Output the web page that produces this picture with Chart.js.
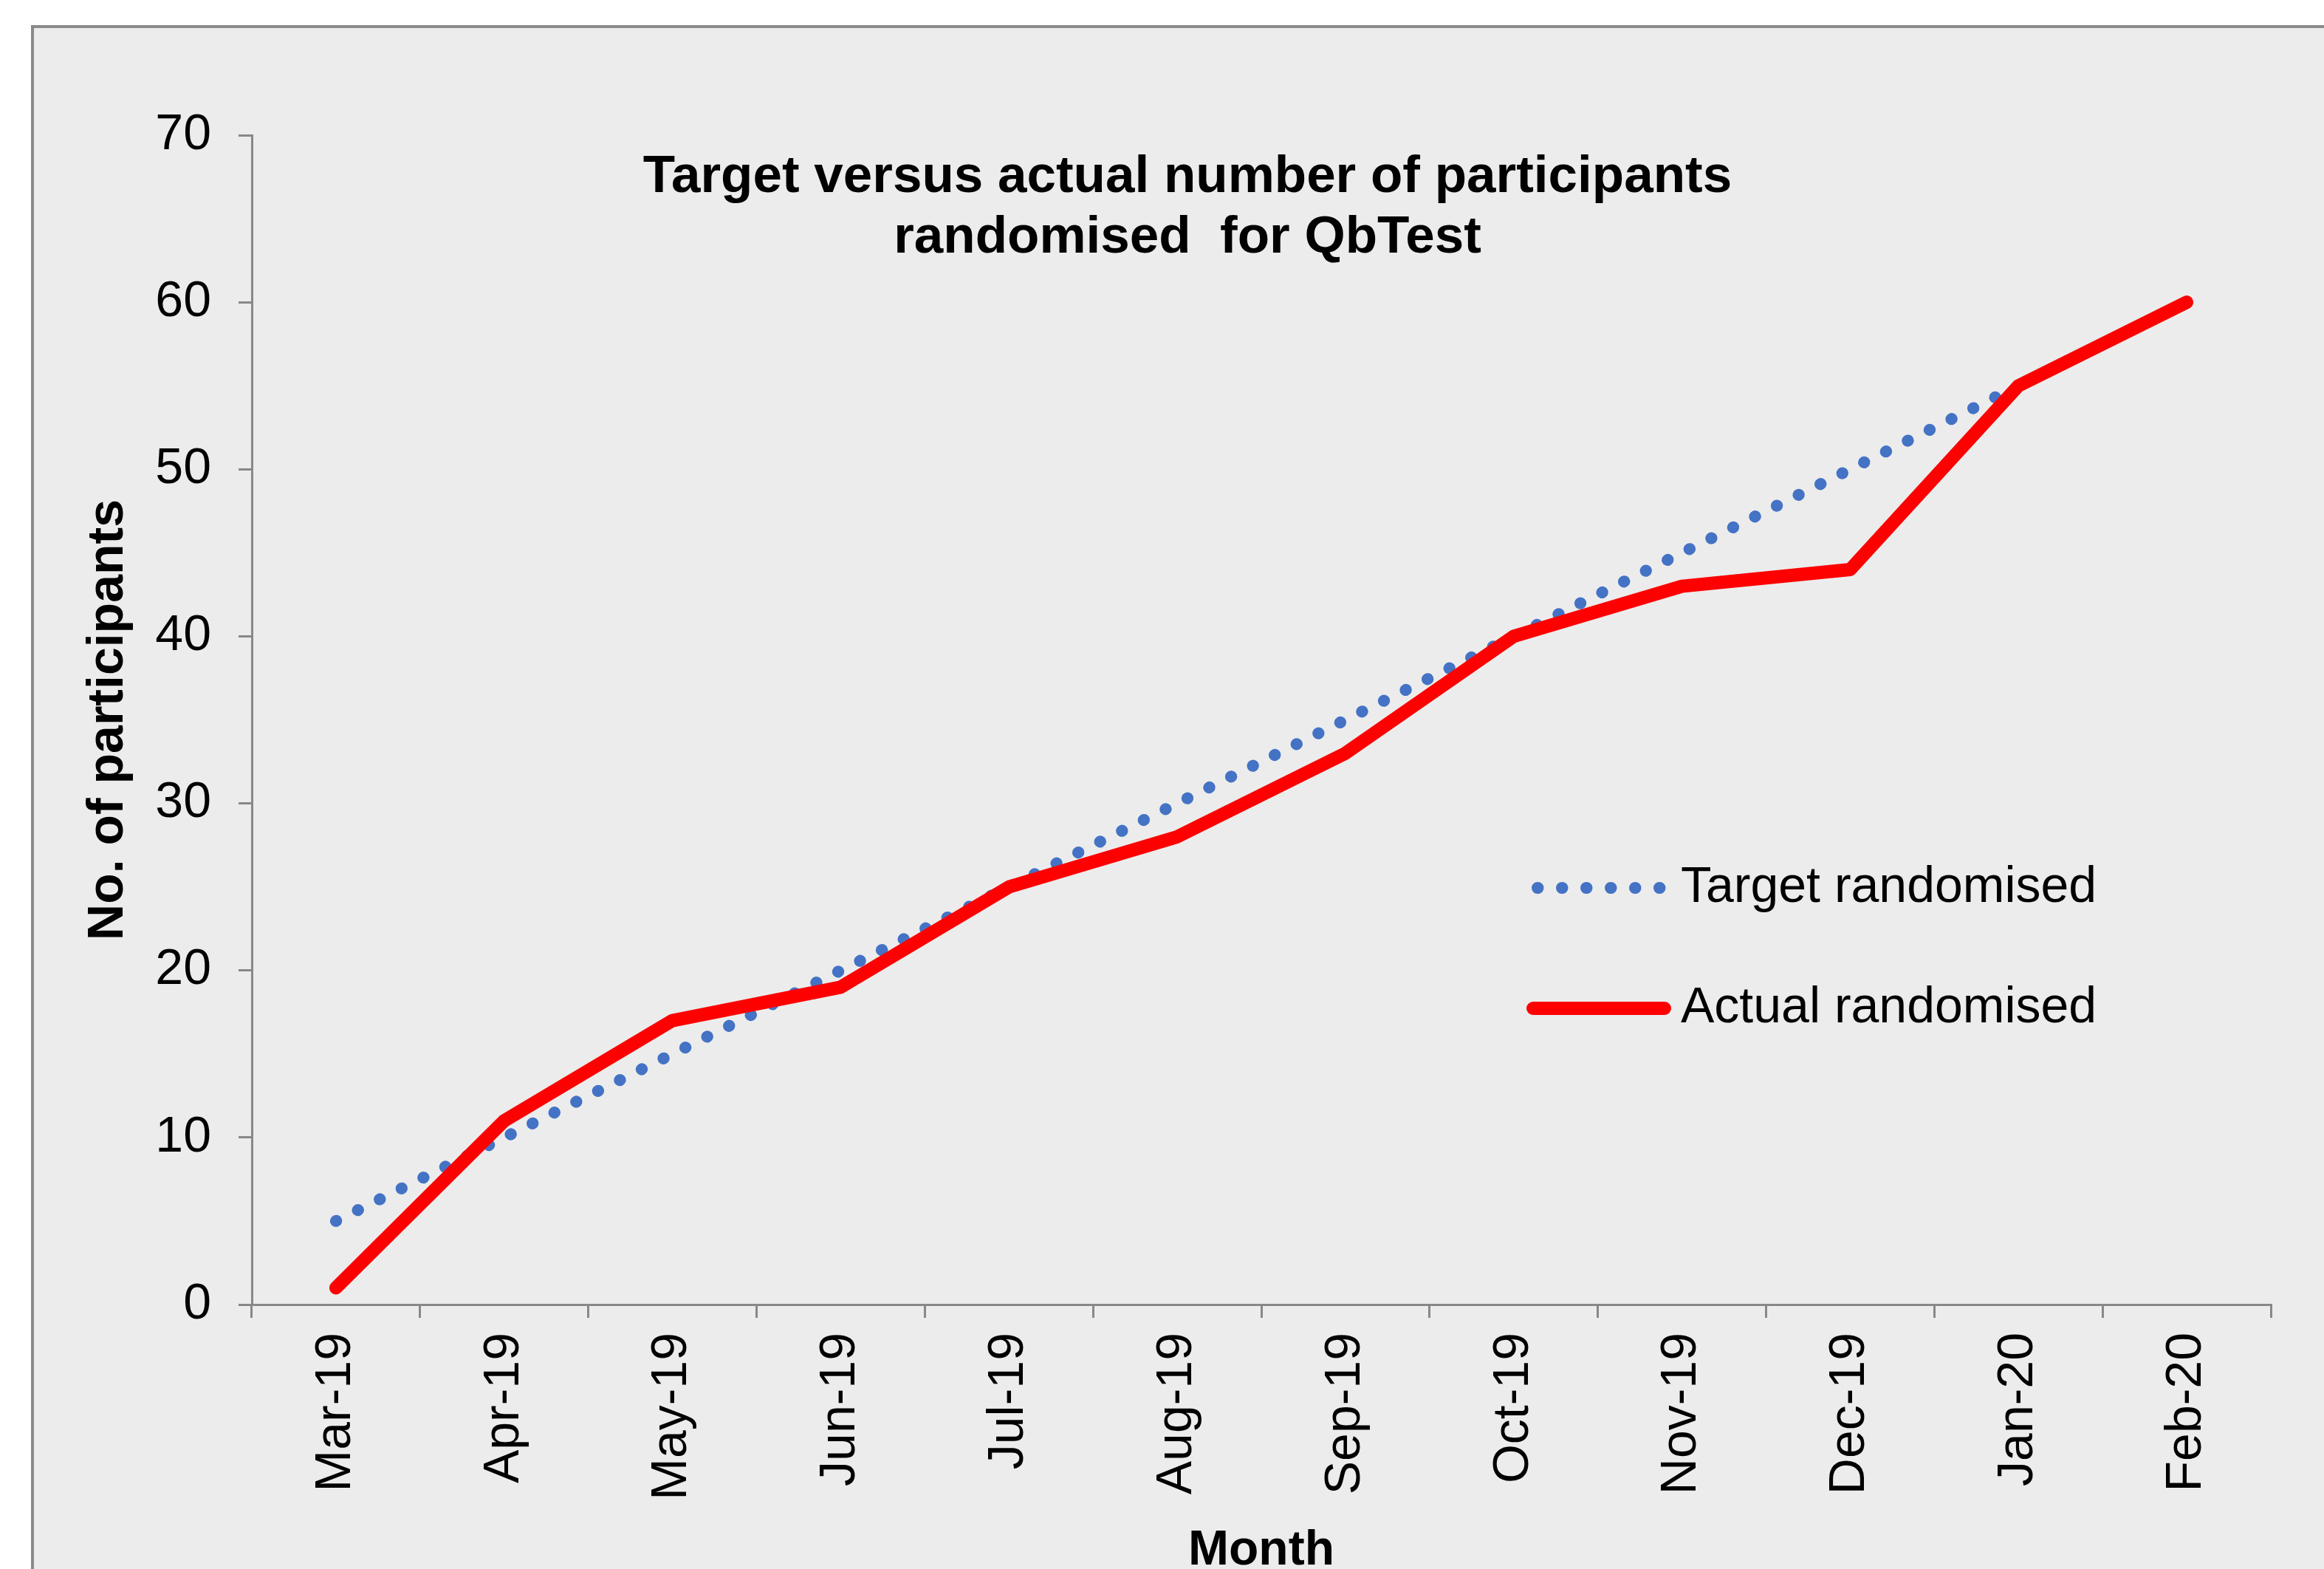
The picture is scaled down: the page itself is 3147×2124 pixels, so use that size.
<!DOCTYPE html>
<html lang="en">
<head>
    <meta charset="UTF-8" />
    <title>Target versus actual number of participants randomised for QbTest</title>
    <script src="https://cdn.jsdelivr.net/npm/chart.js"></script>
    <style>
        html, body { margin: 0; padding: 0; background: #fff; }
        canvas { display: block; }
    </style>
</head>
<body>
    <canvas id="chart" width="3147" height="2124"></canvas>
    <script>
        // chart values
        const months = ['Mar-19', 'Apr-19', 'May-19', 'Jun-19', 'Jul-19', 'Aug-19',
                        'Sep-19', 'Oct-19', 'Nov-19', 'Dec-19', 'Jan-20', 'Feb-20'];
        const targetRandomised = [5, 10, 15, 20, 25, 30, 35, 40, 45, 50, 55, 60];
        const actualRandomised = [1, 11, 17, 19, 25, 28, 33, 40, 43, 44, 55, 60];
        const yTicks = [0, 10, 20, 30, 40, 50, 60, 70];
        const titleLines = ['Target versus actual number of participants', 'randomised  for QbTest'];

        const FONT = "'Liberation Sans', Arial, sans-serif";

        // grey panel behind the chart
        const panel = {
            id: 'panel',
            beforeDraw(chart) {
                const c = chart.ctx;
                c.save();
                c.fillStyle = '#ffffff';
                c.fillRect(0, 0, chart.width, chart.height);
                c.fillStyle = '#ececec';
                c.fillRect(44, 36, chart.width - 44, chart.height - 36);
                c.strokeStyle = '#8a8a8a';
                c.lineWidth = 4;
                c.beginPath();
                c.moveTo(44, chart.height);
                c.lineTo(44, 36);
                c.lineTo(chart.width, 36);
                c.stroke();
                c.restore();
            }
        };

        // title sits inside the plot area
        const insideTitle = {
            id: 'insideTitle',
            afterDraw(chart) {
                const c = chart.ctx;
                c.save();
                c.font = 'bold 71px ' + FONT;
                c.fillStyle = '#000';
                c.textAlign = 'center';
                c.textBaseline = 'middle';
                titleLines.forEach((line, i) => c.fillText(line, 1608, 240 + i * 82));
                c.restore();
            }
        };

        // legend drawn inside the plot, right side
        const insideLegend = {
            id: 'insideLegend',
            afterDraw(chart) {
                const c = chart.ctx;
                const rows = [1202, 1365];
                c.save();
                chart.data.datasets.forEach((ds, i) => {
                    const y = rows[i];
                    c.strokeStyle = ds.borderColor;
                    c.lineWidth = ds.borderWidth;
                    c.lineCap = ds.borderCapStyle;
                    c.setLineDash(ds.borderDash || []);
                    c.beginPath();
                    c.moveTo(i === 0 ? 2082 : 2076, y);
                    c.lineTo(2254, y);
                    c.stroke();
                    c.setLineDash([]);
                    c.font = '68px ' + FONT;
                    c.fillStyle = '#000';
                    c.textAlign = 'left';
                    c.textBaseline = 'middle';
                    c.fillText(ds.label, 2276, y);
                });
                c.restore();
            }
        };

        new Chart(document.getElementById('chart'), {
            type: 'line',
            data: {
                labels: months,
                datasets: [{
                    label: 'Target randomised',
                    data: targetRandomised,
                    borderColor: '#4472c4',
                    borderWidth: 16,
                    borderDash: [0.5, 32.5],
                    borderCapStyle: 'round',
                    pointRadius: 0,
                    tension: 0,
                    order: 2
                }, {
                    label: 'Actual randomised',
                    data: actualRandomised,
                    borderColor: '#ff0000',
                    borderWidth: 18,
                    borderCapStyle: 'round',
                    borderJoinStyle: 'round',
                    pointRadius: 0,
                    tension: 0,
                    order: 1
                }]
            },
            options: {
                responsive: false,
                animation: false,
                devicePixelRatio: 1,
                layout: { padding: { left: 0, top: 183, right: 72, bottom: 0 } },
                plugins: {
                    legend: { display: false },
                    title: { display: false },
                    tooltip: { enabled: false }
                },
                scales: {
                    x: {
                        offset: true,
                        grid: { offset: true, drawOnChartArea: false, color: '#888', lineWidth: 3, tickLength: 18 },
                        border: { color: '#888', width: 3 },
                        ticks: {
                            autoSkip: false, minRotation: 90, maxRotation: 90, padding: 20,
                            color: '#000', font: { family: FONT, size: 68 }
                        },
                        title: {
                            display: true, text: 'Month', color: '#000',
                            font: { family: FONT, size: 66, weight: 'bold', lineHeight: 0.72 },
                            padding: { top: 0, bottom: 0 }
                        },
                        afterFit(scale) { scale.height = 358; }
                    },
                    y: {
                        min: 0, max: 70,
                        afterBuildTicks(scale) { scale.ticks = yTicks.map(v => ({ value: v })); },
                        grid: { drawOnChartArea: false, color: '#888', lineWidth: 3, tickLength: 18 },
                        border: { color: '#888', width: 3 },
                        ticks: { padding: 37, color: '#000', font: { family: FONT, size: 68 } },
                        title: {
                            display: true, text: 'No. of participants', color: '#000',
                            font: { family: FONT, size: 68, weight: 'bold', lineHeight: 1.2 },
                            padding: { top: 106, bottom: 0 }
                        },
                        afterFit(scale) { scale.width = 341; }
                    }
                }
            },
            plugins: [panel, insideTitle, insideLegend]
        });
    </script>
</body>
</html>
